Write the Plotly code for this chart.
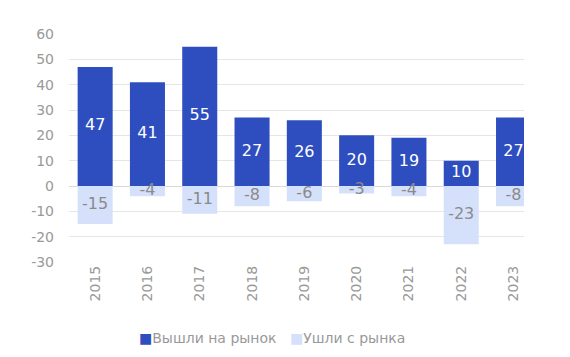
import plotly.graph_objects as go

years = ["2015", "2016", "2017", "2018", "2019", "2020", "2021", "2022", "2023"]
entered = [47, 41, 55, 27, 26, 20, 19, 10, 27]
exited = [-15, -4, -11, -8, -6, -3, -4, -23, -8]
y_ticks = [-30, -20, -10, 0, 10, 20, 30, 40, 50, 60]

FONT = "DejaVu Sans"
GRAY = "#999999"
DARK = "#2E4EBF"
LIGHT = "#D5E1FB"

W, H = 562, 349          # page body has an 8px margin
L, R, T, B = 61, 46, 26, 95
pw, ph = W - L - R, H - T - B

fig = go.Figure()
fig.add_trace(go.Bar(x=years, y=entered, name="Вышли на рынок",
                     marker=dict(color=DARK, line=dict(width=0)), hoverinfo="skip"))
fig.add_trace(go.Bar(x=years, y=exited, name="Ушли с рынка",
                     marker=dict(color=LIGHT, line=dict(width=0)), hoverinfo="skip"))
fig.add_trace(go.Scatter(x=years, y=[v / 2 for v in entered], mode="text",
                         text=[str(v) for v in entered], showlegend=False,
                         textfont=dict(color="white", size=16, family=FONT), hoverinfo="skip"))
fig.add_trace(go.Scatter(x=years, y=[v / 2 for v in exited], mode="text",
                         text=[str(v) for v in exited], showlegend=False,
                         textfont=dict(color="#8a8a8a", size=16, family=FONT), hoverinfo="skip"))

legend_items = [("Вышли на рынок", DARK, 129), ("Ушли с рынка", LIGHT, 280)]
for name, col, px in legend_items:
    fig.add_annotation(x=(px - L) / pw, y=1 - (330 - T) / ph, xref="paper", yref="paper",
                       showarrow=False, text=f"<span style='color:{col}'>■</span>{name}",
                       xanchor="left", yanchor="middle",
                       font=dict(size=14, color=GRAY, family=FONT))

fig.update_layout(
    width=W, height=H,
    margin=dict(l=L, r=R, t=T, b=B, autoexpand=False),
    barmode="relative", bargap=0.33,
    plot_bgcolor="white", paper_bgcolor="white",
    font=dict(family=FONT, color=GRAY, size=14),
    xaxis=dict(type="category", range=[-0.5, 8.2], tickangle=-90, showgrid=False,
               showline=False, ticks="", tickfont=dict(size=14, color=GRAY), automargin=False),
    yaxis=dict(range=[-30, 60], tickvals=y_ticks, ticktext=[str(v) for v in y_ticks],
               showgrid=True, gridcolor="#E6E6E6",
               zeroline=True, zerolinecolor="#D9D9D9", zerolinewidth=1,
               tickfont=dict(size=14, color=GRAY), ticks="", ticklabelstandoff=14,
               automargin=False),
    showlegend=False,
)

fig.write_html("out.html")
